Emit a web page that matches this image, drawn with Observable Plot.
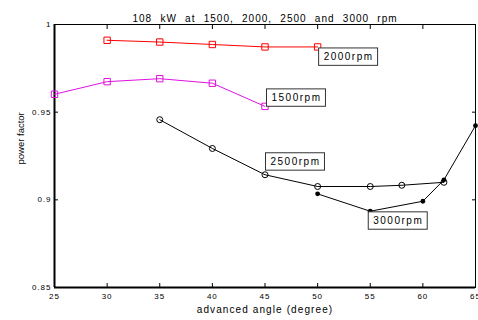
<!DOCTYPE html>
<html><head><meta charset="utf-8">
<script src="https://cdn.jsdelivr.net/npm/d3@7"></script>
<script src="https://cdn.jsdelivr.net/npm/@observablehq/plot@0.6"></script>
<style>body{margin:0;background:#fff} svg{display:block}</style>
</head><body><div id="chart"></div>
<script>
const title = "108 kW at 1500, 2000, 2500 and 3000 rpm";
const xLabel = "advanced angle (degree)";
const yLabel = "power factor";
const xTicks = [25, 30, 35, 40, 45, 50, 55, 60, 65];
const yTicks = [0.85, 0.9, 0.95, 1];

const angles2000 = [30, 35, 40, 45, 50];
const pf2000 = [0.991, 0.990, 0.9886, 0.9872, 0.9872];
const angles1500 = [25, 30, 35, 40, 45];
const pf1500 = [0.9602, 0.9674, 0.9691, 0.9665, 0.9533];
const angles2500 = [35, 40, 45, 50, 55, 58, 62];
const pf2500 = [0.9457, 0.9293, 0.9143, 0.9076, 0.9076, 0.9083, 0.9100];
const angles3000 = [50, 55, 60, 62, 65];
const pf3000 = [0.9034, 0.8935, 0.8992, 0.9114, 0.9423];
const seriesNames = ["2000rpm", "1500rpm", "2500rpm", "3000rpm"];

const tbl = (xs, ys) => xs.map((a, i) => ({a, pf: ys[i]}));
const s2000 = tbl(angles2000, pf2000);
const s1500 = tbl(angles1500, pf1500);
const s2500 = tbl(angles2500, pf2500);
const s3000 = tbl(angles3000, pf3000);

const magenta = "#e010e0";
const labelOpts = {x: "a", y: "pf", textAnchor: "start", fontSize: 10, fill: "#000"};

const chart = Plot.plot({
  width: 478, height: 320,
  marginLeft: 54, marginRight: 3, marginTop: 24, marginBottom: 33,
  style: {fontFamily: "'Liberation Sans', Arial, Helvetica, sans-serif", fontSize: "8px", background: "#fff", color: "#000"},
  x: {domain: [25, 65], label: null},
  y: {domain: [0.85, 1], label: null},
  marks: [
    Plot.frame({stroke: "#000", strokeWidth: 1}),
    Plot.axisX(xTicks, {anchor: "bottom", tickSize: -4, tickPadding: 10, fontSize: 8, label: null}),
    Plot.axisX(xTicks, {anchor: "top", tickSize: -4, fill: "none", label: null}),
    Plot.axisY(yTicks, {anchor: "left", tickSize: -4, tickPadding: 7, fontSize: 8, tickFormat: d => String(d), label: null}),
    Plot.axisY(yTicks, {anchor: "right", tickSize: -4, fill: "none", label: null}),
    Plot.ruleX([25], {stroke: "#000", strokeWidth: 2}),
    Plot.ruleY([0.85], {stroke: "#000", strokeWidth: 2}),

    Plot.line(s2000, {x: "a", y: "pf", stroke: "red", strokeWidth: 1}),
    Plot.dot(s2000, {x: "a", y: "pf", symbol: "square", r: 3.6, stroke: "red", fill: "none", strokeWidth: 1}),
    Plot.line(s1500, {x: "a", y: "pf", stroke: magenta, strokeWidth: 1}),
    Plot.dot(s1500, {x: "a", y: "pf", symbol: "square", r: 3.6, stroke: magenta, fill: "none", strokeWidth: 1}),
    Plot.line(s2500, {x: "a", y: "pf", stroke: "#000", strokeWidth: 1}),
    Plot.dot(s2500, {x: "a", y: "pf", r: 3, stroke: "#000", fill: "none", strokeWidth: 1}),
    Plot.line(s3000, {x: "a", y: "pf", stroke: "#000", strokeWidth: 1}),
    Plot.dot(s3000, {x: "a", y: "pf", r: 2.4, fill: "#000", stroke: "none"}),

    Plot.text(s2000, {...labelOpts, filter: d => d.a === 50, text: () => seriesNames[0], dx: 6, dy: 10}),
    Plot.text(s1500, {...labelOpts, filter: d => d.a === 45, text: () => seriesNames[1], dx: 6.5, dy: -8.5}),
    Plot.text(s2500, {...labelOpts, filter: d => d.a === 45, text: () => seriesNames[2], dx: 5.5, dy: -13}),
    Plot.text(s3000, {...labelOpts, filter: d => d.a === 55, text: () => seriesNames[3], dx: 3, dy: 9.6}),

    Plot.text([title], {frameAnchor: "top", dy: -10, fontSize: 10, fill: "#000"}),
    Plot.text([xLabel], {frameAnchor: "bottom", dy: 25, fontSize: 10, fill: "#000"}),
    Plot.text([yLabel], {frameAnchor: "left", rotate: -90, dx: -34, dy: 8.5, fontSize: 9.5, fill: "#000"})
  ]
});
document.getElementById("chart").append(chart);

// text styling: the reference glyphs are wide, so add letter spacing
d3.select(chart).selectAll("text").each(function () {
  const t = this.textContent;
  const sel = d3.select(this);
  if (t === title) sel.style("letter-spacing", "1px").style("word-spacing", "4.5px");
  else if (t === xLabel) sel.style("letter-spacing", "1.1px");
  else if (t === yLabel) sel.style("letter-spacing", "0px");
  else if (/^\d+rpm$/.test(t)) {
    sel.style("letter-spacing", "1.5px");
    const b = this.getBBox();
    const padL = 5, padR = 4, padT = 3.2, padB = 3.2;
    const rect = document.createElementNS("http://www.w3.org/2000/svg", "rect");
    rect.setAttribute("x", b.x - padL);
    rect.setAttribute("y", b.y - padT);
    rect.setAttribute("width", b.width + padL + padR);
    rect.setAttribute("height", b.height + padT + padB);
    rect.setAttribute("fill", "#fff");
    rect.setAttribute("stroke", "#333");
    rect.setAttribute("stroke-width", "1");
    const tr = this.getAttribute("transform");
    if (tr) rect.setAttribute("transform", tr);
    this.parentNode.insertBefore(rect, this);
  } else sel.style("letter-spacing", "1px");
});
</script>
</body></html>
